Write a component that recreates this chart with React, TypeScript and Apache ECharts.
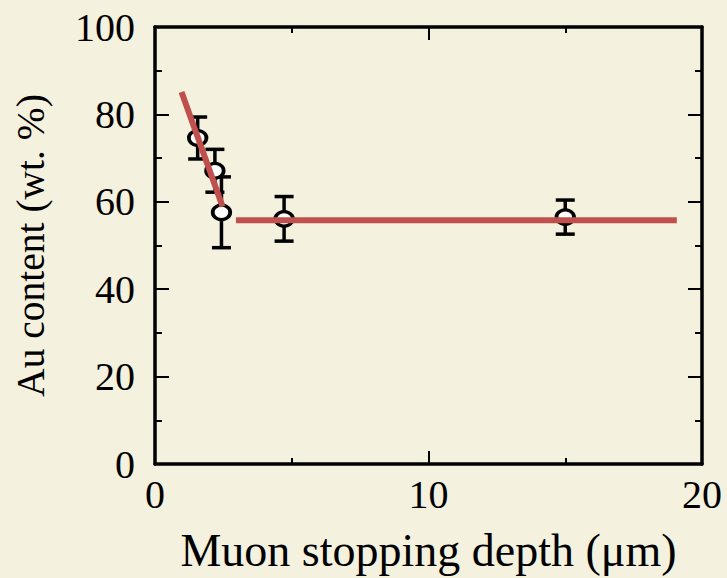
import React, { useEffect, useRef } from "react";
import * as echarts from "echarts";

// Measured Au content against muon stopping depth
const depth = [1.56, 2.19, 2.43, 4.72, 15.0];
const auContent = [74.6, 67.1, 57.6, 56.1, 56.5];
const auError = [4.8, 4.9, 8.1, 5.1, 3.9];

// Fitted trend: steep near-surface drop, then a flat bulk level
const steepFit = [
  [0.97, 85.1],
  [2.47, 58.9],
];
const plateauFit = [
  [2.96, 55.8],
  [19.08, 55.8],
];

const xTicks = [0, 10, 20];
const yTicks = [0, 20, 40, 60, 80, 100];

const FONT = "'Liberation Serif', 'Times New Roman', serif";
const BG = "#F4F1DE";
const RED = "#C0504D";

function frameAxis(ticks: number[], showLabels: boolean, majorLen: number, minorLen: number, margin = 8) {
  return {
    type: "value" as const,
    min: ticks[0],
    max: ticks[ticks.length - 1],
    interval: ticks[1] - ticks[0],
    axisLine: { show: true, onZero: false, lineStyle: { color: "#000", width: 3.5 } },
    axisTick: { show: true, inside: true, length: majorLen, lineStyle: { color: "#000", width: 2 } },
    minorTick: { show: true, splitNumber: 2, length: minorLen, lineStyle: { color: "#000", width: 2 } },
    splitLine: { show: false },
    axisLabel: {
      show: showLabels,
      color: "#000",
      fontFamily: FONT,
      fontSize: 40,
      margin,
    },
  };
}

export default function App() {
  const ref = useRef<HTMLDivElement>(null);

  useEffect(() => {
    document.body.style.margin = "0";
    document.body.style.background = BG;
    if (!ref.current) return;
    const chart = echarts.init(ref.current, null, { renderer: "svg" });

    const errData = depth.map((x, i) => [x, auContent[i] - auError[i], auContent[i] + auError[i]]);

    chart.setOption({
      animation: false,
      backgroundColor: BG,
      grid: { left: 155, right: 25, top: 27, bottom: 106, containLabel: false },
      xAxis: [
        {
          ...frameAxis(xTicks, true, 13, 6, 10),
          position: "bottom",
          name: "Muon stopping depth (\u03bcm)",
          nameLocation: "middle",
          nameGap: 63,
          nameTextStyle: { color: "#000", fontFamily: FONT, fontSize: 46, lineHeight: 46 },
        },
        { ...frameAxis(xTicks, false, 13, 6), position: "top" },
      ],
      yAxis: [
        {
          ...frameAxis(yTicks, true, 14, 7, 20),
          position: "left",
          name: "Au content (wt. %)",
          nameLocation: "middle",
          nameGap: 104,
          nameTextStyle: { color: "#000", fontFamily: FONT, fontSize: 39.5, lineHeight: 40 },
        },
        { ...frameAxis(yTicks, false, 14, 7), position: "right" },
      ],
      series: [
        {
          type: "custom",
          name: "error",
          z: 2,
          data: errData,
          renderItem: (params: any, api: any) => {
            const x = api.value(0);
            const lo = api.coord([x, api.value(1)]);
            const hi = api.coord([x, api.value(2)]);
            const half = 9.5;
            const style = { stroke: "#000", lineWidth: 3.5 };
            return {
              type: "group",
              children: [
                { type: "line", shape: { x1: lo[0], y1: lo[1], x2: hi[0], y2: hi[1] }, style },
                { type: "line", shape: { x1: lo[0] - half, y1: lo[1], x2: lo[0] + half, y2: lo[1] }, style },
                { type: "line", shape: { x1: hi[0] - half, y1: hi[1], x2: hi[0] + half, y2: hi[1] }, style },
              ],
            };
          },
        },
        {
          type: "scatter",
          name: "Au content",
          z: 3,
          symbol: "circle",
          symbolSize: [17.5, 14.5],
          itemStyle: { color: "#fff", borderColor: "#000", borderWidth: 3.5, opacity: 1 },
          data: depth.map((x, i) => [x, auContent[i]]),
        },
        {
          type: "line",
          name: "steep",
          z: 4,
          showSymbol: false,
          symbol: "none",
          lineStyle: { color: RED, width: 6 },
          data: steepFit,
        },
        {
          type: "line",
          name: "plateau",
          z: 4,
          showSymbol: false,
          symbol: "none",
          lineStyle: { color: RED, width: 6 },
          data: plateauFit,
        },
      ],
    });

    return () => chart.dispose();
  }, []);

  return (
    <div
      ref={ref}
      style={{ position: "absolute", left: 0, top: 0, width: 727, height: 578, background: BG }}
    />
  );
}
